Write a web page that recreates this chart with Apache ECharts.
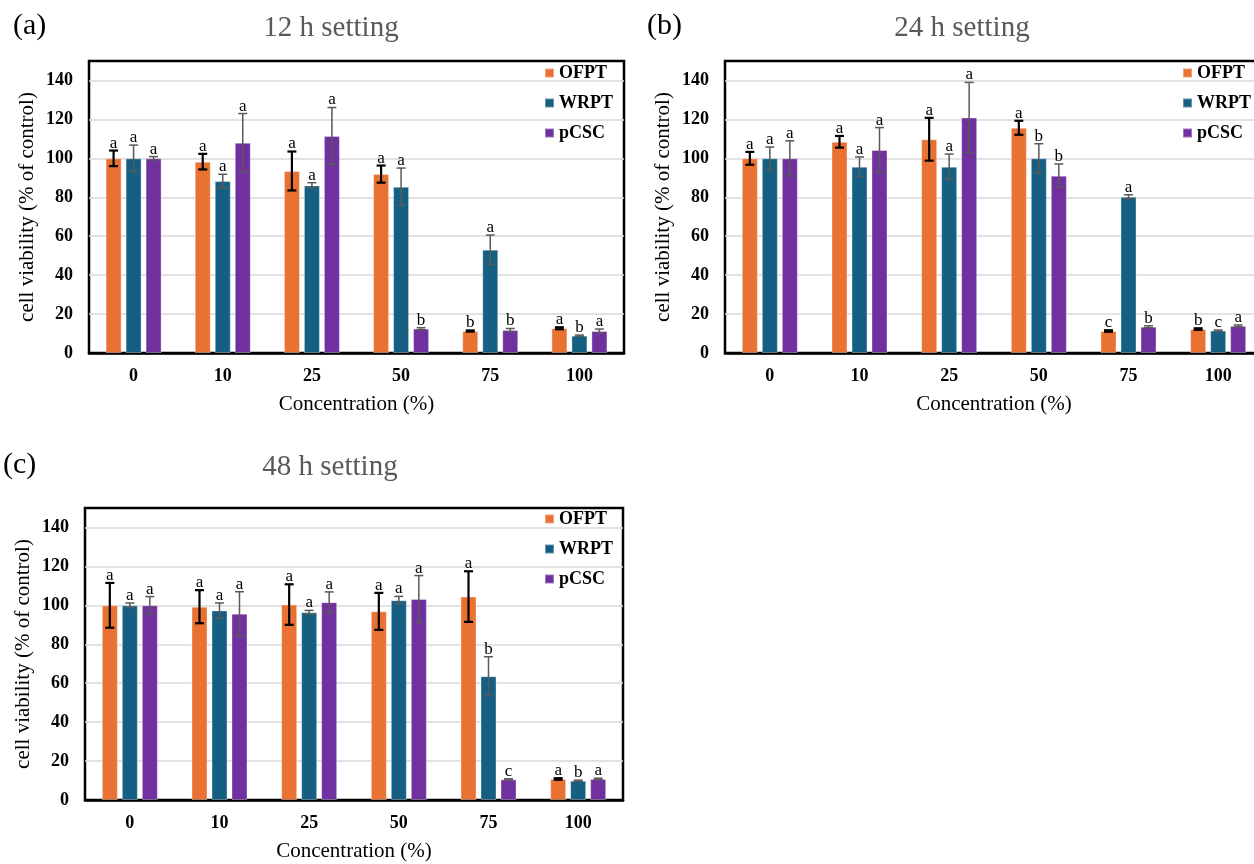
<!DOCTYPE html>
<html>
<head>
<meta charset="utf-8">
<script src="https://cdn.jsdelivr.net/npm/echarts@6/dist/echarts.min.js"></script>
<style>
html, body { margin: 0; padding: 0; overflow: hidden; background: #fff; }
#main { width: 1270px; height: 864px; }
</style>
</head>
<body>
<div id="main"></div>
<script>
// 数据
var categories = ['0', '10', '25', '50', '75', '100'];
var seriesNames = ['OFPT', 'WRPT', 'pCSC'];

// 12 h
var ofpt12 = [100, 98.3, 93.5, 91.9, 11.3, 12.7];
var ofpt12Err = [4, 4, 10, 4.4, 0.3, 0.5];
var ofpt12Sig = ['a', 'a', 'a', 'a', 'b', 'a'];
var wrpt12 = [100, 88.3, 86.1, 85.4, 53.1, 8.9];
var wrpt12Err = [6.8, 3.5, 1.4, 9.6, 7.5, 0.3];
var wrpt12Sig = ['a', 'a', 'a', 'a', 'a', 'b'];
var pcsc12 = [100, 108, 111.5, 12.5, 11.8, 11.3];
var pcsc12Err = [0.9, 15, 14.6, 0.5, 0.8, 1];
var pcsc12Sig = ['a', 'a', 'a', 'b', 'b', 'a'];

// 24 h
var ofpt24 = [100, 108.5, 109.8, 115.7, 11.3, 12.3];
var ofpt24Err = [3.3, 3, 11, 3.6, 0.4, 0.4];
var ofpt24Sig = ['a', 'a', 'a', 'a', 'c', 'b'];
var wrpt24 = [100, 95.7, 95.7, 100, 80.3, 11.5];
var wrpt24Err = [5.8, 5, 6.5, 7.5, 1, 0.3];
var wrpt24Sig = ['a', 'a', 'a', 'b', 'a', 'c'];
var pcsc24 = [100, 104.3, 121, 91.1, 13.5, 13.9];
var pcsc24Err = [9, 11.5, 18, 6, 0.5, 0.5];
var pcsc24Sig = ['a', 'a', 'a', 'b', 'b', 'a'];

// 48 h
var ofpt48 = [100, 99.3, 100.4, 96.9, 104.5, 10.8];
var ofpt48Err = [11.5, 8.5, 10.4, 9.5, 13, 0.4];
var ofpt48Sig = ['a', 'a', 'a', 'a', 'a', 'a'];
var wrpt48 = [100, 97.4, 96.4, 102.6, 63.6, 9.9];
var wrpt48Err = [1.2, 3.8, 1, 2, 10, 0.3];
var wrpt48Sig = ['a', 'a', 'a', 'a', 'b', 'b'];
var pcsc48 = [100, 95.7, 101.6, 103.3, 10.6, 10.8];
var pcsc48Err = [4.5, 11.3, 5.3, 12, 0.3, 0.4];
var pcsc48Sig = ['a', 'a', 'a', 'a', 'c', 'a'];

var colors = ['#E97132', '#156082', '#7030A0'];
var serif = "'Liberation Serif', 'Times New Roman', serif";

var panels = [
	{ letter: '(a)', title: '12 h setting', grid: { left: 89, top: 61, width: 535, height: 292 },
	  letterX: 13, titleX: 331, titleY: 28, legendLeft: 544, legendTop: 64,
	  vals: [ofpt12, wrpt12, pcsc12], errs: [ofpt12Err, wrpt12Err, pcsc12Err], sigs: [ofpt12Sig, wrpt12Sig, pcsc12Sig] },
	{ letter: '(b)', title: '24 h setting', grid: { left: 725, top: 61, width: 538, height: 292 },
	  letterX: 647, titleX: 962, titleY: 28, legendLeft: 1182, legendTop: 64,
	  vals: [ofpt24, wrpt24, pcsc24], errs: [ofpt24Err, wrpt24Err, pcsc24Err], sigs: [ofpt24Sig, wrpt24Sig, pcsc24Sig] },
	{ letter: '(c)', title: '48 h setting', grid: { left: 85, top: 508, width: 538, height: 292 },
	  letterX: 3, titleX: 330, titleY: 467, legendLeft: 544, legendTop: 510,
	  vals: [ofpt48, wrpt48, pcsc48], errs: [ofpt48Err, wrpt48Err, pcsc48Err], sigs: [ofpt48Sig, wrpt48Sig, pcsc48Sig] }
];

var barOffsets = [-20, 0, 20];

var grids = [], xAxes = [], yAxes = [], series = [], legends = [], graphics = [];

panels.forEach(function(p, gi) {
	grids.push({
		left: p.grid.left, top: p.grid.top, width: p.grid.width, height: p.grid.height,
		show: true, borderColor: '#000', borderWidth: 2.5, backgroundColor: '#fff'
	});
	xAxes.push({
		type: 'category', gridIndex: gi, data: categories,
		name: 'Concentration (%)', nameLocation: 'middle', nameGap: 41,
		nameTextStyle: { fontFamily: serif, fontSize: 21, color: '#000' },
		axisLine: { show: true, lineStyle: { color: '#000', width: 2.5 } },
		axisTick: { show: false },
		axisLabel: { margin: 14, fontFamily: serif, fontSize: 18, fontWeight: 'bold', color: '#000' }
	});
	yAxes.push({
		type: 'value', gridIndex: gi, min: 0, max: 150, interval: 20,
		name: 'cell viability (% of control)', nameLocation: 'middle', nameGap: 51,
		nameTextStyle: { fontFamily: serif, fontSize: 21, color: '#000' },
		axisLine: { show: false }, axisTick: { show: false },
		axisLabel: {
			margin: 16, fontFamily: serif, fontSize: 18, fontWeight: 'bold', color: '#000',
			formatter: function(v) { return v > 140 ? '' : v; }
		},
		splitLine: { show: true, showMaxLine: false, showMinLine: false, lineStyle: { color: '#d9d9d9', width: 1.5 } }
	});
	legends.push({
		orient: 'vertical', left: p.legendLeft, top: p.legendTop, padding: 0,
		itemWidth: 9, itemHeight: 9, itemGap: 12, icon: 'rect',
		data: seriesNames,
		textStyle: { fontFamily: serif, fontSize: 18, fontWeight: 'bold', color: '#000', lineHeight: 18 }
	});
	seriesNames.forEach(function(nm, si) {
		series.push({
			name: nm, type: 'bar', xAxisIndex: gi, yAxisIndex: gi,
			barWidth: 16, barGap: '25%',
			data: p.vals[si],
			itemStyle: { color: colors[si], borderColor: 'rgba(255,255,255,0.35)', borderWidth: 1 }
		});
	});
	seriesNames.forEach(function(nm, si) {
		var sigs = p.sigs[si];
		var isBlack = si === 0;
		var errData = p.vals[si].map(function(v, i) { return [i, v, p.errs[si][i]]; });
		series.push({
			name: nm + '-err', type: 'custom', xAxisIndex: gi, yAxisIndex: gi, z: 5,
			data: errData,
			renderItem: function(params, api) {
				var idx = api.value(0), v = api.value(1), e = api.value(2);
				var top = api.coord([idx, v + e]);
				var bot = api.coord([idx, v - e]);
				var x = top[0] + barOffsets[si];
				var st = { stroke: isBlack ? '#000' : '#595959', lineWidth: isBlack ? 2.2 : 1.5 };
				var hw = 4.5;
				return {
					type: 'group',
					children: [
						{ type: 'line', shape: { x1: x, y1: top[1], x2: x, y2: bot[1] }, style: st },
						{ type: 'line', shape: { x1: x - hw, y1: top[1], x2: x + hw, y2: top[1] }, style: st },
						{ type: 'line', shape: { x1: x - hw, y1: bot[1], x2: x + hw, y2: bot[1] }, style: st },
						{ type: 'text', style: {
							x: x, y: top[1] + 1, text: sigs[params.dataIndex],
							textAlign: 'center', textVerticalAlign: 'bottom',
							font: '17px ' + serif, fill: '#000'
						} }
					]
				};
			}
		});
	});
	graphics.push({
		type: 'text', left: p.letterX, top: p.titleY - 17,
		style: { text: p.letter, font: '30px ' + serif, fill: '#000' }
	});
	graphics.push({
		type: 'text', x: p.titleX, y: p.titleY,
		style: { text: p.title, font: '29px ' + serif, fill: '#595959', textAlign: 'center', textVerticalAlign: 'middle' }
	});
});

var myChart = echarts.init(document.getElementById('main'));
myChart.setOption({
	backgroundColor: '#fff',
	animation: false,
	grid: grids,
	xAxis: xAxes,
	yAxis: yAxes,
	legend: legends,
	graphic: graphics,
	series: series
});
</script>
</body>
</html>
